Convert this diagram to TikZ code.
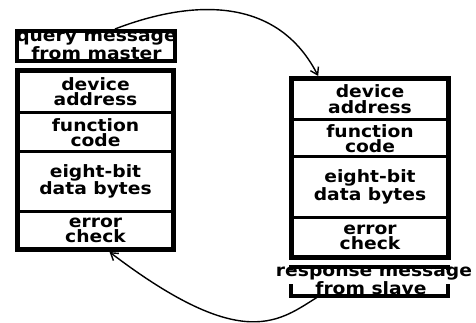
\documentclass[tikz,border=0pt]{standalone}
\usepackage{fontspec}
\setmainfont{DejaVu Sans}[FakeStretch=1.1]
\usetikzlibrary{arrows.meta,calc}
\begin{document}
\begin{tikzpicture}[x=1pt,y=-1pt,
  lbl/.style={font=\bfseries\fontsize{17}{15.5}\selectfont, align=center, inner sep=0pt, outer sep=0pt},
  cell/.style={lbl, draw, line width=3pt, minimum width=156pt},
  frame/.style={draw, line width=5pt, inner sep=0pt, outer sep=0pt},
  msgbox/.style={draw, line width=4pt, inner sep=0pt, outer sep=0pt},
  link/.style={line width=1.4pt, -{Straight Barb[length=7pt,width=9pt,line width=1.4pt]}}]
\useasboundingbox (0,0) rectangle (476,323);
% query box
\node[msgbox, minimum width=158pt, minimum height=30pt] (query) at (96,46) {};
\node[lbl, anchor=base] (qt) at (96.5,59.5) {query message\\[0.5pt]from master};
% left stack
\node[cell, minimum height=42.5pt] (ldev) at (95.5,91.75) {device\\address};
\node[cell, minimum height=39pt] (lfun) at (95.5,132.5) {function\\code};
\node[cell, minimum height=59pt] (ldat) at (95.5,181.5) {eight-bit\\data bytes};
\node[cell, minimum height=38.5pt] (lerr) at (95.5,230.25) {error\\check};
\node[frame, minimum width=156pt, minimum height=179pt] (lstack) at (95.5,160) {};
% right stack
\node[cell, minimum width=157pt, minimum height=41.5pt] (rdev) at (370,99.25) {device\\address};
\node[cell, minimum width=157pt, minimum height=37pt] (rfun) at (370,138.5) {function\\code};
\node[cell, minimum width=157pt, minimum height=60pt] (rdat) at (370,187) {eight-bit\\data bytes};
\node[cell, minimum width=157pt, minimum height=40.5pt] (rerr) at (370,237.25) {error\\check};
\node[frame, minimum width=157pt, minimum height=179pt] (rstack) at (370,168) {};
% response box
\node[msgbox, minimum width=157pt, minimum height=29pt] (resp) at (369.5,281.5) {};
\fill[white] (277,269.5) rectangle (476,283.5);
\node[lbl, anchor=base] (rt) at (374,294) {response message\\[-0.5pt]\hspace*{-6pt}from slave};
% connectors
\coordinate (qa) at ($(query.north west)!0.62!(query.north east)+(0,-2)$);
\coordinate (ra) at ($(rstack.north west)!0.17!(rstack.north east)+(0,-2.5)$);
\draw[link] (qa) .. controls (185,2) and (275,-8) .. (ra);
\coordinate (rb) at ($(resp.south west)!0.18!(resp.south east)$);
\coordinate (lb) at ($(lstack.south west)!0.59!(lstack.south east)+(0,2.5)$);
\draw[link] (rb) .. controls (280,320) and (245,355) .. (lb);
\end{tikzpicture}
\end{document}
